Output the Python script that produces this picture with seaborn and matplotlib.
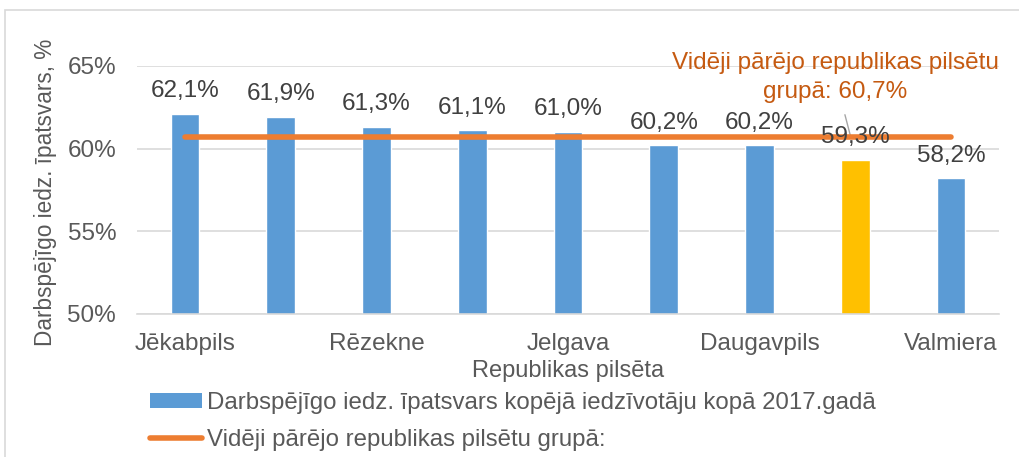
import numpy as np
import matplotlib
matplotlib.use("Agg")
import matplotlib.pyplot as plt
from matplotlib.patches import Patch, Rectangle
from matplotlib.lines import Line2D
import seaborn as sns

categories = ["Jēkabpils", "Ventspils", "Rēzekne", "Rīga", "Jelgava",
              "Liepāja", "Daugavpils", "Jūrmala", "Valmiera"]
values = [62.1, 61.9, 61.3, 61.1, 61.0, 60.2, 60.2, 59.3, 58.2]
highlight = "Jūrmala"
average = 60.7
shown_ticks = ["Jēkabpils", "", "Rēzekne", "", "Jelgava", "", "Daugavpils", "", "Valmiera"]
y_ticks = [50, 55, 60, 65]

BLUE = "#5B9BD5"
ORANGE = "#ED7D31"
YELLOW = "#FFC000"
GRID = "#D9D9D9"
TXT = "#595959"
LBL = "#404040"

sns.set_theme(style="white")
plt.rcParams["font.family"] = ["Liberation Sans", "DejaVu Sans"]

FS = 17.5

fig = plt.figure(figsize=(10.2, 4.57), dpi=100)
ax = fig.add_axes([137/1020, 1-314/457, (999-137)/1020, (314-66)/457])

colors = [YELLOW if c == highlight else BLUE for c in categories]
sns.barplot(x=categories, y=values, hue=categories, palette=colors,
            legend=False, width=0.3, ax=ax, saturation=1, zorder=2)

xs = np.arange(len(categories))
ax.plot(xs, [average]*len(categories), color=ORANGE, lw=4,
        solid_capstyle="round", zorder=4)

ax.set_ylim(50, 65)
ax.set_yticks(y_ticks)
ax.set_yticklabels([f"{t}%" for t in y_ticks], fontsize=FS, color=TXT)
ax.set_xticks(xs)
ax.set_xticklabels(shown_ticks, fontsize=FS, color=TXT)
ax.tick_params(axis="both", length=0)
ax.tick_params(axis="y", pad=15)
ax.tick_params(axis="x", pad=14)
ax.yaxis.grid(True, color=GRID, lw=1.2, zorder=0)
ax.set_axisbelow(True)
for s in ["left", "top", "right"]:
    ax.spines[s].set_visible(False)
ax.spines["bottom"].set_color(GRID)
ax.spines["bottom"].set_linewidth(1.2)
ax.set_xlim(-0.5, len(categories)-0.5)

for x, v in zip(xs, values):
    ax.annotate(f"{v:.1f}%".replace(".", ","), (x, v), xytext=(0, 8.5),
                textcoords="offset points", ha="center", va="bottom",
                fontsize=FS, color=LBL, zorder=5)

ax.set_xlabel("Republikas pilsēta", fontsize=17, color=TXT)
ax.xaxis.set_label_coords(0.5, -0.185)
ax.set_ylabel("Darbspējīgo iedz. īpatsvars, %", fontsize=16.3, color=TXT)
ax.yaxis.set_label_coords(-0.093, 0.49)

# average annotation
ax.annotate(f"Vidēji pārējo republikas pilsētu\ngrupā: {average:.1f}%".replace(".", ","),
            xy=(6.95, 60.75), xytext=(6.79, 64.3), textcoords="data",
            ha="center", va="center", fontsize=FS, color="#C55A11",
            linespacing=1.45, annotation_clip=False,
            arrowprops=dict(arrowstyle="-", color="#A6A6A6", lw=1,
                            shrinkA=6, shrinkB=0))

handles = [Patch(facecolor=BLUE, edgecolor="none"),
           Line2D([0], [0], color=ORANGE, lw=4, solid_capstyle="round")]
labels = ["Darbspējīgo iedz. īpatsvars kopējā iedzīvotāju kopā 2017.gadā",
          "Vidēji pārējo republikas pilsētu grupā:"]
leg = fig.legend(handles, labels, loc="upper left",
                 bbox_to_anchor=(140/1020, 1-382/457), frameon=False,
                 fontsize=17.3, handlelength=2.17, handleheight=0.58,
                 handletextpad=0.2, labelspacing=0.62, borderaxespad=0)
for t in leg.get_texts():
    t.set_color(TXT)

fig.patches.append(Rectangle((5/1020, -0.5), 2, 0.5 + 1 - 10/457,
                             transform=fig.transFigure, fill=False,
                             edgecolor=GRID, lw=1.2))

fig.savefig("out.png", dpi=100)
